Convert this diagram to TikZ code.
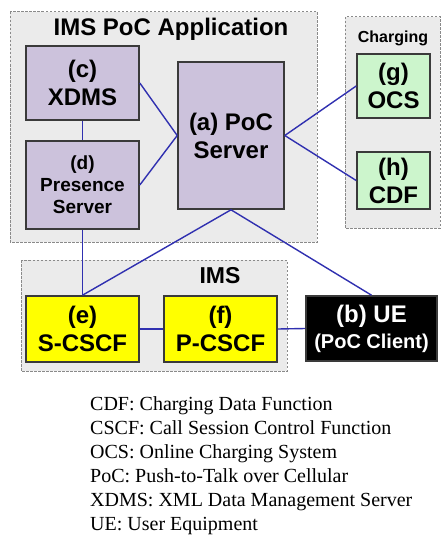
\documentclass[tikz,border=0pt]{standalone}
\usepackage{fontspec}
\setmainfont{Liberation Serif}
\setsansfont{Liberation Sans}
\definecolor{grpfill}{HTML}{EBEBEB}
\definecolor{grpline}{HTML}{8A8A8A}
\definecolor{lav}{HTML}{CCC2DC}
\definecolor{mint}{HTML}{CCF5CC}
\definecolor{yel}{HTML}{FFFF00}
\definecolor{wire}{HTML}{3030B0}
\definecolor{edge}{HTML}{3A3A3A}
\begin{document}
\begin{tikzpicture}[x=1pt,y=-1pt,
  grp/.style={draw=grpline,fill=grpfill,line width=1pt,dash pattern=on 2.5pt off 1.5pt},
  box/.style={draw=edge,line width=1.6pt,align=center,inner sep=0pt,
    font=\sffamily\bfseries\fontsize{24}{28}\selectfont},
  wirel/.style={draw=wire,line width=1.4pt},
  legend/.style={anchor=base west,inner sep=0pt,font=\rmfamily\fontsize{20}{24}\selectfont}]
\useasboundingbox[fill=white] (0,0) rectangle (441,535);
% groups
\draw[grp] (10,12) rectangle (317,242);
\draw[grp] (345,17) rectangle (440,228);
\draw[grp] (21,260) rectangle (287,371);
\node[anchor=base,inner sep=0pt,font=\sffamily\bfseries\fontsize{24}{26}\selectfont] (tapp) at (171,36) {IMS PoC Application};
\node[anchor=base,inner sep=0pt,font=\sffamily\bfseries\fontsize{16}{18}\selectfont] (tchg) at (393,43) {Charging};
\node[anchor=base,inner sep=0pt,font=\sffamily\bfseries\fontsize{23}{25}\selectfont] (tims) at (220,283) {IMS};
% boxes
\node[box,fill=lav,minimum width=113pt,minimum height=74pt] (c) at (82.5,83) {(c)\\XDMS};
\node[box,fill=lav,minimum width=113pt,minimum height=88pt,font=\sffamily\bfseries\fontsize{19}{22}\selectfont] (d) at (82.5,185) {(d)\\Presence\\Server};
\node[box,fill=lav,minimum width=106pt,minimum height=147pt] (a) at (231,135.5) {(a) PoC\\Server};
\node[box,fill=mint,minimum width=73pt,minimum height=64pt] (g) at (393.5,86) {(g)\\OCS};
\node[box,fill=mint,minimum width=73pt,minimum height=57pt] (h) at (393.5,180.5) {(h)\\CDF};
\node[box,fill=yel,minimum width=113pt,minimum height=66pt] (e) at (82.5,329) {(e)\\S-CSCF};
\node[box,fill=yel,minimum width=113pt,minimum height=66pt] (f) at (220.5,329) {(f)\\P-CSCF};
\node[box,fill=black,text=white,minimum width=131pt,minimum height=65pt,font=\sffamily\bfseries\fontsize{24}{26}\selectfont] (b) at (371.5,328.5) {(b) UE\\{\fontsize{20}{22}\selectfont (PoC Client)}};
% connectors
\draw[wirel] (c.east) -- (a.west);
\draw[wirel] (d.east) -- (a.west);
\draw[wirel] (a.east) -- (g.west);
\draw[wirel] (a.east) -- (h.west);
\draw[wirel] (c.south) -- (d.north);
\draw[wirel] (d.south) -- (e.north);
\draw[wirel] (a.south) -- (e.north);
\draw[wirel] (a.south) -- (b.north);
\draw[wirel] (e.east) -- (f.west);
\draw[wirel] (f.east) -- (b.west);
% legend
\node[legend] (l1) at (90,410) {CDF: Charging Data Function};
\node[legend] (l2) at (90,434) {CSCF: Call Session Control Function};
\node[legend] (l3) at (90,458) {OCS: Online Charging System};
\node[legend] (l4) at (90,482) {PoC: Push-to-Talk over Cellular};
\node[legend] (l5) at (90,506) {XDMS: XML Data Management Server};
\node[legend] (l6) at (90,530) {UE: User Equipment};
\end{tikzpicture}
\end{document}
